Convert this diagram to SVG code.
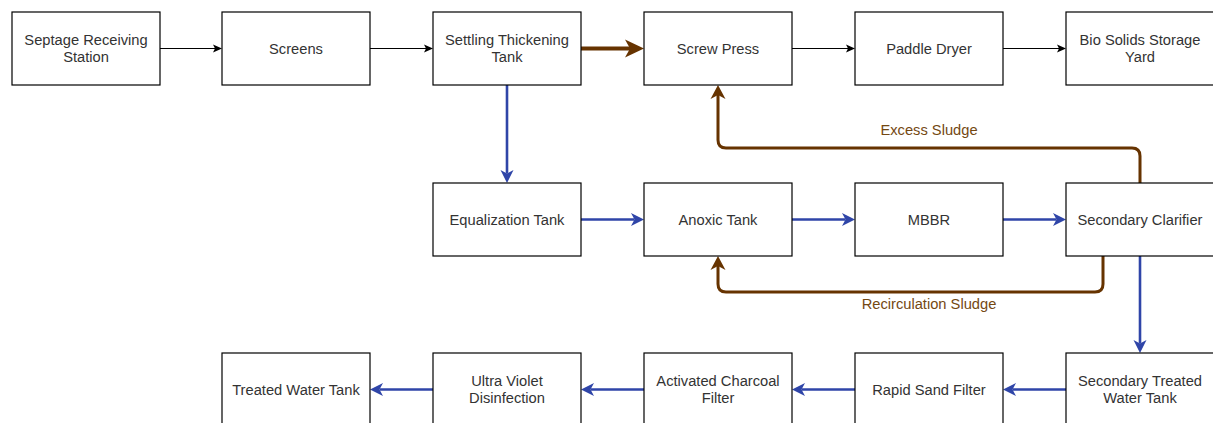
<svg xmlns="http://www.w3.org/2000/svg" width="1213" height="423" viewBox="0 0 1213 423">
<style>
.box{fill:#fff;stroke:#000;stroke-width:1.2}
.t{font-family:"Liberation Sans",Arial,sans-serif;font-size:14.7px;fill:#333;text-anchor:middle}
.lbl{font-family:"Liberation Sans",Arial,sans-serif;font-size:14.7px;fill:#744812;text-anchor:middle}
.k{fill:none;stroke:#000;stroke-width:1.2;marker-end:url(#mk)}
.b{fill:none;stroke:#2f45a8;stroke-width:2.6;marker-end:url(#mb)}
.br{fill:none;stroke:#663300;stroke-width:4;marker-end:url(#mbr)}
.s{fill:none;stroke:#663300;stroke-width:3;marker-end:url(#ms)}
</style>
<defs>
<marker id="mk" markerUnits="userSpaceOnUse" markerWidth="9" markerHeight="8" refX="2" refY="4" orient="auto" overflow="visible"><path d="M0,0 L9,4 L0,8 L2,4 Z" fill="#000"/></marker>
<marker id="mb" markerUnits="userSpaceOnUse" markerWidth="13" markerHeight="13" refX="3.5" refY="6.5" orient="auto" overflow="visible"><path d="M0,0 L13,6.5 L0,13 L3.5,6.5 Z" fill="#2f45a8"/></marker>
<marker id="mbr" markerUnits="userSpaceOnUse" markerWidth="19" markerHeight="18" refX="5" refY="9" orient="auto" overflow="visible"><path d="M0,0 L19,9 L0,18 L5,9 Z" fill="#663300"/></marker>
<marker id="ms" markerUnits="userSpaceOnUse" markerWidth="14" markerHeight="15" refX="4" refY="7.5" orient="auto" overflow="visible"><path d="M0,0 L14,7.5 L0,15 L4,7.5 Z" fill="#663300"/></marker>
</defs>
<rect width="1213" height="423" fill="#fff"/>
<g id="connectors">
<path class="k" d="M160,48.5 H215"/>
<path class="k" d="M370,48.5 H426"/>
<path class="br" d="M581,48.5 H630"/>
<path class="k" d="M792,48.5 H848"/>
<path class="k" d="M1003,48.5 H1059"/>
<path class="b" d="M507,85 V173.5"/>
<path class="b" d="M581,219.5 H634.5"/>
<path class="b" d="M792,219.5 H845.5"/>
<path class="b" d="M1003,219.5 H1056.5"/>
<path class="b" d="M1140,256 V343.5"/>
<path class="b" d="M1066,389.5 H1012.5"/>
<path class="b" d="M855,389.5 H801.5"/>
<path class="b" d="M644,389.5 H590.5"/>
<path class="b" d="M433,389.5 H379.5"/>
<path class="s" d="M1140,183 V156 Q1140,148 1132,148 H726 Q718,148 718,140 V95"/>
<path class="s" d="M1103,256 V284 Q1103,292 1095,292 H726 Q718,292 718,284 V266"/>
<text class="lbl" x="929" y="135">Excess Sludge</text>
<text class="lbl" x="929" y="309">Recirculation Sludge</text>
</g>
<g id="n1"><rect class="box" x="12" y="12" width="148" height="73"/><text class="t" x="86" y="45.2">Septage Receiving</text><text class="t" x="86" y="62.2">Station</text></g>
<g id="n2"><rect class="box" x="222" y="12" width="148" height="73"/><text class="t" x="296" y="53.7">Screens</text></g>
<g id="n3"><rect class="box" x="433" y="12" width="148" height="73"/><text class="t" x="507" y="45.2">Settling Thickening</text><text class="t" x="507" y="62.2">Tank</text></g>
<g id="n4"><rect class="box" x="644" y="12" width="148" height="73"/><text class="t" x="718" y="53.7">Screw Press</text></g>
<g id="n5"><rect class="box" x="855" y="12" width="148" height="73"/><text class="t" x="929" y="53.7">Paddle Dryer</text></g>
<g id="n6"><rect class="box" x="1066" y="12" width="148" height="73"/><text class="t" x="1140" y="45.2">Bio Solids Storage</text><text class="t" x="1140" y="62.2">Yard</text></g>
<g id="n7"><rect class="box" x="433" y="183" width="148" height="73"/><text class="t" x="507" y="224.7">Equalization Tank</text></g>
<g id="n8"><rect class="box" x="644" y="183" width="148" height="73"/><text class="t" x="718" y="224.7">Anoxic Tank</text></g>
<g id="n9"><rect class="box" x="855" y="183" width="148" height="73"/><text class="t" x="929" y="224.7">MBBR</text></g>
<g id="n10"><rect class="box" x="1066" y="183" width="148" height="73"/><text class="t" x="1140" y="224.7">Secondary Clarifier</text></g>
<g id="n11"><rect class="box" x="1066" y="353" width="148" height="73"/><text class="t" x="1140" y="386.2">Secondary Treated</text><text class="t" x="1140" y="403.2">Water Tank</text></g>
<g id="n12"><rect class="box" x="855" y="353" width="148" height="73"/><text class="t" x="929" y="394.7">Rapid Sand Filter</text></g>
<g id="n13"><rect class="box" x="644" y="353" width="148" height="73"/><text class="t" x="718" y="386.2">Activated Charcoal</text><text class="t" x="718" y="403.2">Filter</text></g>
<g id="n14"><rect class="box" x="433" y="353" width="148" height="73"/><text class="t" x="507" y="386.2">Ultra Violet</text><text class="t" x="507" y="403.2">Disinfection</text></g>
<g id="n15"><rect class="box" x="222" y="353" width="148" height="73"/><text class="t" x="296" y="394.7">Treated Water Tank</text></g>
</svg>
